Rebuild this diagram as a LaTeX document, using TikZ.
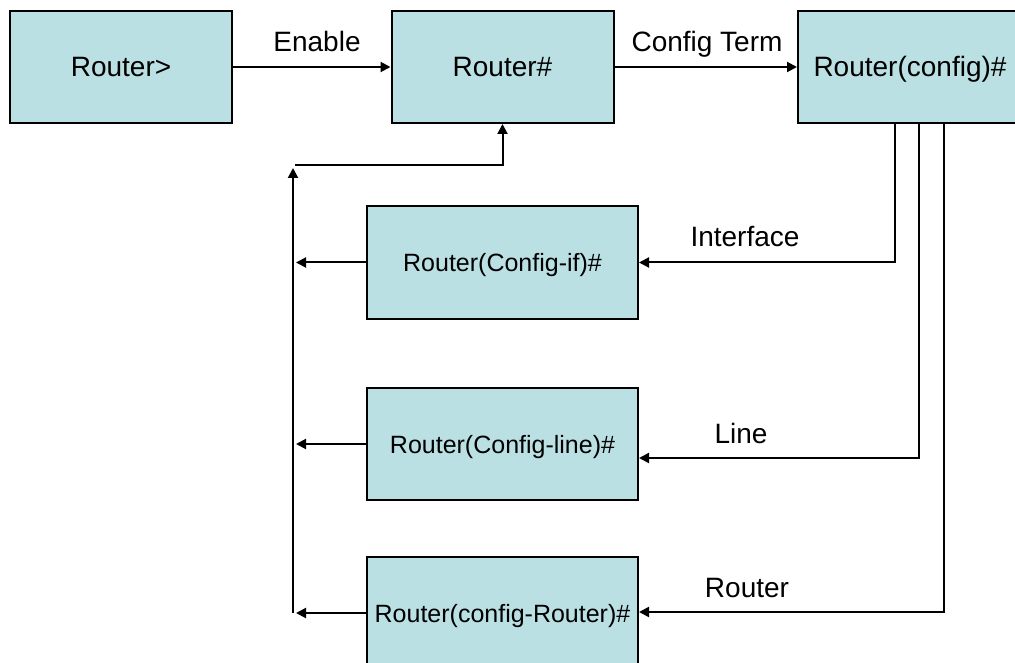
\documentclass[tikz,border=0pt]{standalone}
\usepackage{fontspec}
\setmainfont{Liberation Sans}
\usetikzlibrary{arrows.meta,calc}
\definecolor{boxfill}{RGB}{186,224,227}
\begin{document}
\begin{tikzpicture}[x=1pt,y=-1pt,
  modebox/.style={draw=black, fill=boxfill, line width=2pt, rectangle,
    inner sep=0pt, text depth=0pt},
  topbox/.style={modebox, minimum width=222, minimum height=112,
    text height=20pt, font=\fontsize{28}{32}\selectfont},
  subbox/.style={modebox, minimum width=271, minimum height=112,
    text height=18pt, font=\fontsize{25}{30}\selectfont},
  lbl/.style={anchor=base, inner sep=0pt, font=\fontsize{28}{32}\selectfont},
  arr/.style={-{Triangle[length=10pt,width=10pt]}, line width=2pt},
  wire/.style={line width=2pt}]
  \useasboundingbox[fill=white] (0,0) rectangle (1015,663);

  % mode boxes
  \node[topbox] (user) at (121,67) {Router>};
  \node[topbox] (priv) at (502.5,67) {Router\#};
  \node[topbox, minimum width=224] (conf) at (910,67) {Router(config)\#};
  \node[subbox] (cif) at (502.5,262.5) {Router(Config-if)\#};
  \node[subbox] (cline) at (502.5,444) {Router(Config-line)\#};
  \node[subbox] (crt) at (502.5,613) {Router(config-Router)\#};

  % top row commands
  \draw[arr] (user) -- (priv);
  \node[lbl] (en) at (317,52) {Enable};
  \draw[arr] (priv) -- (conf);
  \node[lbl] (ct) at (707,52) {Config Term};

  % sub-modes entered from global config
  \draw[arr] ($(conf.south west)+(98,0)$) |- (cif.east);
  \node[lbl] (lif) at (745,247) {Interface};
  \draw[arr] ($(conf.south west)+(122,0)$) |- ($(cline.east)+(0,14)$);
  \node[lbl] (lln) at (741,443) {Line};
  \draw[arr] ($(conf.south west)+(147,0)$) |- ($(crt.east)+(0,-1)$);
  \node[lbl] (lrt) at (747,597) {Router};

  % exits back to privileged mode
  \coordinate (busTop) at (293,168);
  \coordinate (busBot) at (293,613);
  \coordinate (ret) at (295,165);
  \draw[arr] (busBot) -- (busTop);
  \draw[arr] (ret) -| (priv.south);
  \draw[arr, shorten >=3pt] (cif.west) -- (cif.west -| busTop);
  \draw[arr, shorten >=3pt] (cline.west) -- (cline.west -| busTop);
  \draw[arr, shorten >=3pt] (crt.west) -- (crt.west -| busTop);
\end{tikzpicture}
\end{document}
